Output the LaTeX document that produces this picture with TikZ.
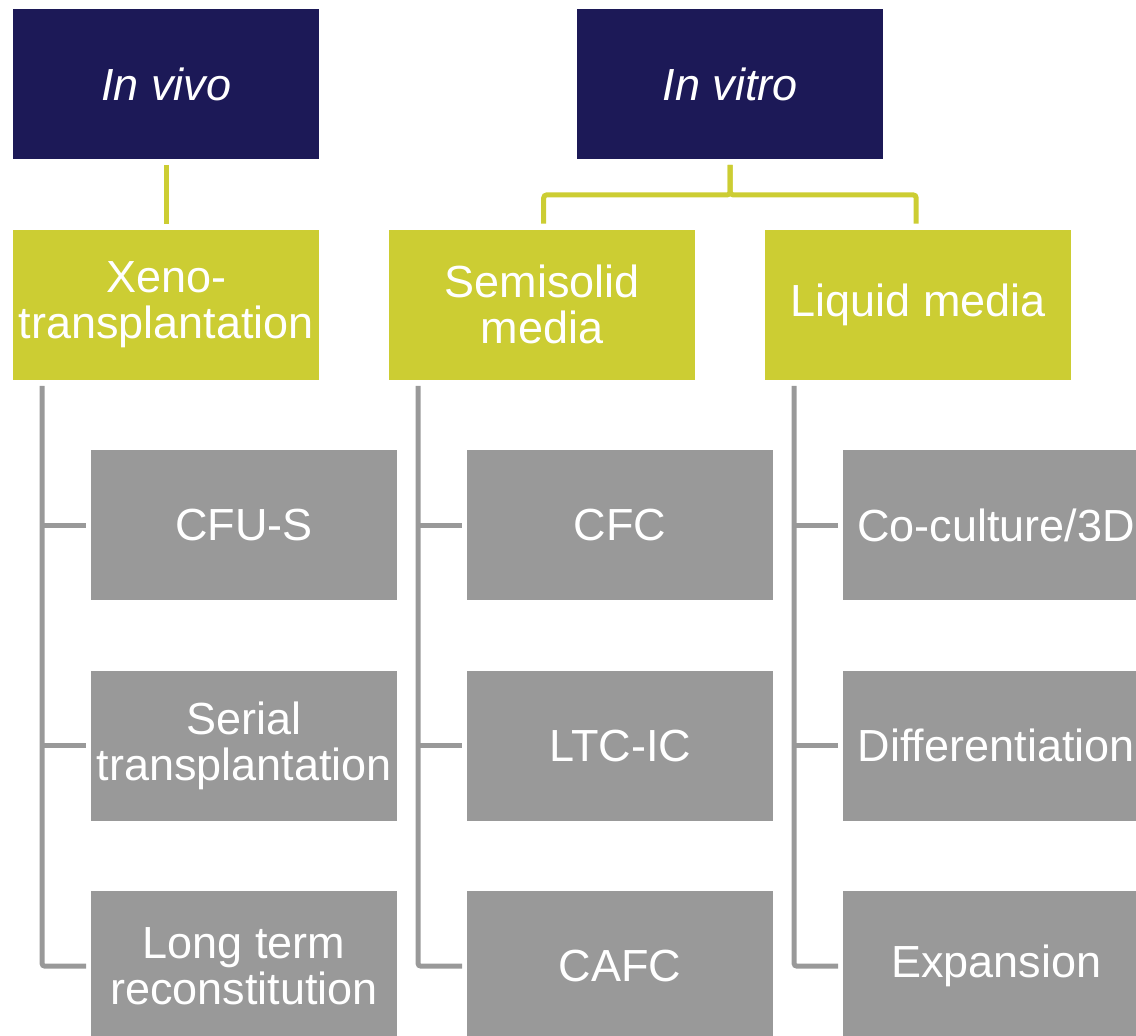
\documentclass[tikz,border=0pt]{standalone}
\usepackage{fontspec}
\setmainfont{Liberation Sans}
\definecolor{navy}{HTML}{1C1957}
\definecolor{lime}{HTML}{CCCD33}
\definecolor{boxgray}{HTML}{999999}
\begin{document}
\begin{tikzpicture}[x=1pt,y=-1pt,
  box/.style={minimum width=306pt,minimum height=150pt,inner sep=0pt,align=center,text=white,
    font=\fontsize{45}{46}\selectfont,anchor=north west},
  topbox/.style={box,fill=navy},
  midbox/.style={box,fill=lime},
  leafbox/.style={box,fill=boxgray},
  limeline/.style={draw=lime,line width=5pt,rounded corners=3pt},
  grayline/.style={draw=boxgray,line width=5pt,rounded corners=3pt}]
\useasboundingbox (0,0) rectangle (1136,1036);
\clip (0,0) rectangle (1136,1036);
% top row
\node[topbox] (invivo) at (13,9) {\itshape In vivo};
\node[topbox] (invitro) at (577,9) {\itshape In vitro};
% middle row
\node[midbox] (xeno) at (13,229.5) {Xeno-\\transplantation};
\node[midbox] (semi) at (389,229.5) {Semisolid\\media};
\node[midbox] (liquid) at (765,229.5) {Liquid media};
% leaves
\node[leafbox] (g11) at (91,450) {CFU-S};
\node[leafbox] (g12) at (91,670.5) {Serial\\transplantation};
\node[leafbox] (g13) at (91,891) {Long term\\reconstitution};
\node[leafbox] (g21) at (467,450) {CFC};
\node[leafbox] (g22) at (467,670.5) {LTC-IC};
\node[leafbox] (g23) at (467,891) {CAFC};
\node[leafbox] (g31) at (843,450) {Co-culture/3D};
\node[leafbox] (g32) at (843,670.5) {Differentiation};
\node[leafbox] (g33) at (843,891) {Expansion};
% lime connectors
\draw[limeline] ([yshift=-5.5pt]invivo.south) -- ([yshift=5.5pt]xeno.north);
\draw[limeline] ([yshift=-5.5pt]invitro.south) -- ++(0,30) -| ([xshift=1.5pt,yshift=6pt]semi.north);
\draw[limeline] ([yshift=-5.5pt]invitro.south) -- ++(0,30) -| ([xshift=-2pt,yshift=6pt]liquid.north);
% gray connectors
\foreach \p/\a/\b/\c in {xeno/g11/g12/g13, semi/g21/g22/g23, liquid/g31/g32/g33}{
  \draw[grayline] ([xshift=29pt,yshift=-6pt]\p.south west) |- ([xshift=-5pt]\c.west);
  \draw[grayline] ([xshift=29pt]\p.south west |- \a.west) -- ([xshift=-5pt]\a.west);
  \draw[grayline] ([xshift=29pt]\p.south west |- \b.west) -- ([xshift=-5pt]\b.west);
}
\end{tikzpicture}
\end{document}
